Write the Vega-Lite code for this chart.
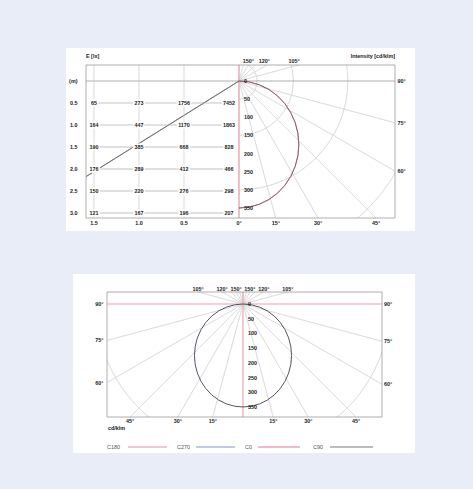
{
  "$schema": "https://vega.github.io/schema/vega-lite/v6.json",
  "background": "#e9edf7",
  "padding": {"left": 66, "top": 48, "right": 58, "bottom": 36},
  "config": {
    "view": {"stroke": null},
    "text": {"font": "Liberation Sans", "fontSize": 5.4, "fontWeight": "bold", "color": "#1a1a1a"}
  },
  "datasets": {
    "rings": [{"r": 50}, {"r": 100}, {"r": 150}, {"r": 200}, {"r": 250}, {"r": 300}, {"r": 350}, {"r": 400}, {"r": 450}, {"r": 500}, {"r": 550}, {"r": 600}, {"r": 650}],
    "rays": [{"angle": -165}, {"angle": -150}, {"angle": -135}, {"angle": -120}, {"angle": -105}, {"angle": -75}, {"angle": -60}, {"angle": -45}, {"angle": -30}, {"angle": -15}, {"angle": 15}, {"angle": 30}, {"angle": 45}, {"angle": 60}, {"angle": 75}, {"angle": 105}, {"angle": 120}, {"angle": 135}, {"angle": 150}, {"angle": 165}],
    "radial": [{"cd": 0}, {"cd": 50}, {"cd": 100}, {"cd": 150}, {"cd": 200}, {"cd": 250}, {"cd": 300}, {"cd": 350}],
    "curve": [
      {"angle": -90, "h": 0, "v": 0}, {"angle": -85, "h": -28.7, "v": 2.7}, {"angle": -80, "h": -56.4, "v": 10.6}, {"angle": -75, "h": -82.5, "v": 23.4}, {"angle": -70, "h": -106.1, "v": 40.9}, {"angle": -65, "h": -126.4, "v": 62.5}, {"angle": -60, "h": -142.9, "v": 87.5}, {"angle": -55, "h": -155.0, "v": 115.1}, {"angle": -50, "h": -162.5, "v": 144.6}, {"angle": -45, "h": -165.0, "v": 175.0}, {"angle": -40, "h": -162.5, "v": 205.4}, {"angle": -35, "h": -155.0, "v": 234.9}, {"angle": -30, "h": -142.9, "v": 262.5}, {"angle": -25, "h": -126.4, "v": 287.5}, {"angle": -20, "h": -106.1, "v": 309.1}, {"angle": -15, "h": -82.5, "v": 326.6}, {"angle": -10, "h": -56.4, "v": 339.4}, {"angle": -5, "h": -28.7, "v": 347.3},
      {"angle": 0, "h": 0, "v": 350},
      {"angle": 5, "h": 28.7, "v": 347.3}, {"angle": 10, "h": 56.4, "v": 339.4}, {"angle": 15, "h": 82.5, "v": 326.6}, {"angle": 20, "h": 106.1, "v": 309.1}, {"angle": 25, "h": 126.4, "v": 287.5}, {"angle": 30, "h": 142.9, "v": 262.5}, {"angle": 35, "h": 155.0, "v": 234.9}, {"angle": 40, "h": 162.5, "v": 205.4}, {"angle": 45, "h": 165.0, "v": 175.0}, {"angle": 50, "h": 162.5, "v": 144.6}, {"angle": 55, "h": 155.0, "v": 115.1}, {"angle": 60, "h": 142.9, "v": 87.5}, {"angle": 65, "h": 126.4, "v": 62.5}, {"angle": 70, "h": 106.1, "v": 40.9}, {"angle": 75, "h": 82.5, "v": 23.4}, {"angle": 80, "h": 56.4, "v": 10.6}, {"angle": 85, "h": 28.7, "v": 2.7}, {"angle": 90, "h": 0, "v": 0}
    ],
    "topAngles": [
      {"label": "0°", "u": 0, "v": 377.5, "pos": "b"}, {"label": "15°", "u": 101.2, "v": 377.5, "pos": "b"}, {"label": "30°", "u": 218, "v": 377.5, "pos": "b"}, {"label": "45°", "u": 377.5, "v": 377.5, "pos": "b"},
      {"label": "90°", "u": 429.9, "v": 0, "pos": "r"}, {"label": "75°", "u": 429.9, "v": 115.2, "pos": "r"}, {"label": "60°", "u": 429.9, "v": 248.2, "pos": "r"},
      {"label": "150°", "u": 25.5, "v": -44.09, "pos": "t"}, {"label": "120°", "u": 70, "v": -44.09, "pos": "t"}, {"label": "105°", "u": 152, "v": -44.09, "pos": "t"}
    ],
    "bottomAngles": [
      {"label": "45°", "u": -384, "v": 384, "pos": "b"}, {"label": "30°", "u": -221.7, "v": 384, "pos": "b"}, {"label": "15°", "u": -102.9, "v": 384, "pos": "b"}, {"label": "15°", "u": 102.9, "v": 384, "pos": "b"}, {"label": "30°", "u": 221.7, "v": 384, "pos": "b"}, {"label": "45°", "u": 384, "v": 384, "pos": "b"},
      {"label": "90°", "u": -462.1, "v": 0, "pos": "l"}, {"label": "75°", "u": -462.1, "v": 123.8, "pos": "l"}, {"label": "60°", "u": -462.1, "v": 266.8, "pos": "l"},
      {"label": "90°", "u": 472.3, "v": 0, "pos": "r"}, {"label": "75°", "u": 472.3, "v": 126.6, "pos": "r"}, {"label": "60°", "u": 472.3, "v": 272.7, "pos": "r"},
      {"label": "105°", "u": -152.3, "v": -40.8, "pos": "t"}, {"label": "120°", "u": -70.7, "v": -40.8, "pos": "t"}, {"label": "150°", "u": -23.6, "v": -40.8, "pos": "t"}, {"label": "150°", "u": 23.6, "v": -40.8, "pos": "t"}, {"label": "120°", "u": 70.7, "v": -40.8, "pos": "t"}, {"label": "105°", "u": 152.3, "v": -40.8, "pos": "t"}
    ],
    "table": [
      {"h": 0.5, "d": 1.5, "E": 65}, {"h": 0.5, "d": 1.0, "E": 273}, {"h": 0.5, "d": 0.5, "E": 1756}, {"h": 0.5, "d": 0, "E": 7452},
      {"h": 1.0, "d": 1.5, "E": 164}, {"h": 1.0, "d": 1.0, "E": 447}, {"h": 1.0, "d": 0.5, "E": 1170}, {"h": 1.0, "d": 0, "E": 1863},
      {"h": 1.5, "d": 1.5, "E": 190}, {"h": 1.5, "d": 1.0, "E": 385}, {"h": 1.5, "d": 0.5, "E": 668}, {"h": 1.5, "d": 0, "E": 828},
      {"h": 2.0, "d": 1.5, "E": 176}, {"h": 2.0, "d": 1.0, "E": 289}, {"h": 2.0, "d": 0.5, "E": 412}, {"h": 2.0, "d": 0, "E": 466},
      {"h": 2.5, "d": 1.5, "E": 150}, {"h": 2.5, "d": 1.0, "E": 220}, {"h": 2.5, "d": 0.5, "E": 276}, {"h": 2.5, "d": 0, "E": 298},
      {"h": 3.0, "d": 1.5, "E": 121}, {"h": 3.0, "d": 1.0, "E": 167}, {"h": 3.0, "d": 0.5, "E": 196}, {"h": 3.0, "d": 0, "E": 207}
    ],
    "legend": [
      {"plane": "C180", "tx": -462.1, "l0": -390.8, "l1": -258.2},
      {"plane": "C270", "tx": -224.3, "l0": -159.7, "l1": -27.2},
      {"plane": "C0", "tx": 6.8, "l0": 51.0, "l1": 193.7},
      {"plane": "C90", "tx": 237.9, "l0": 295.6, "l1": 441.7}
    ]
  },
  "spacing": 74,
  "bounds": "flush",
  "vconcat": [
    {
      "width": 309,
      "height": 153,
      "resolve": {"scale": {"x": "independent", "y": "independent"}},
      "layer": [
        {
          "layer": [
            {"data": {"values": [{}]}, "mark": {"type": "rect", "fill": "#ffffff"},
             "encoding": {"x": {"datum": -476.7, "type": "quantitative", "scale": {"type": "linear", "domain": [-421.6, 429.9], "nice": false, "zero": false}, "axis": null}, "x2": {"datum": 485.0},
                          "y": {"datum": -90.9, "type": "quantitative", "scale": {"type": "linear", "domain": [-44.09, 377.5], "reverse": true, "nice": false, "zero": false}, "axis": null}, "y2": {"datum": 413.3}}},
            {"data": {"name": "rings"}, "mark": {"type": "arc", "filled": false, "stroke": "#d6d6d6", "strokeWidth": 0.6, "theta": 0, "theta2": 3.14159, "clip": true},
             "encoding": {"x": {"datum": 0, "type": "quantitative", "scale": {"type": "linear", "domain": [-421.6, 429.9], "nice": false, "zero": false}, "axis": null},
                          "y": {"datum": 0, "type": "quantitative", "scale": {"type": "linear", "domain": [-44.09, 377.5], "reverse": true, "nice": false, "zero": false}, "axis": null},
                          "radius": {"field": "r", "type": "quantitative", "scale": {"type": "linear", "domain": [0, 1000], "range": [0, 362.9], "zero": true}}}},
            {"data": {"name": "rays"}, "transform": [{"filter": "datum.angle > 0"}], "mark": {"type": "arc", "filled": false, "stroke": "#d6d6d6", "strokeWidth": 0.6, "clip": true},
             "encoding": {"x": {"datum": 0, "type": "quantitative", "scale": {"type": "linear", "domain": [-421.6, 429.9], "nice": false, "zero": false}, "axis": null},
                          "y": {"datum": 0, "type": "quantitative", "scale": {"type": "linear", "domain": [-44.09, 377.5], "reverse": true, "nice": false, "zero": false}, "axis": null},
                          "theta": {"field": "angle", "type": "quantitative", "stack": null, "scale": {"type": "linear", "domain": [-180, 180], "range": [6.283185, 0], "zero": false}},
                          "theta2": {"field": "angle"},
                          "radius": {"datum": 700, "type": "quantitative", "scale": {"type": "linear", "domain": [0, 1000], "range": [0, 362.9], "zero": true}},
                          "radius2": {"datum": 0}}},
            {"data": {"values": [{}]}, "mark": {"type": "rule", "stroke": "#9a9a9a", "strokeWidth": 0.8},
             "encoding": {"y": {"datum": 0, "type": "quantitative", "scale": {"type": "linear", "domain": [-44.09, 377.5], "reverse": true, "nice": false, "zero": false}, "axis": null}}},
            {"data": {"values": [{}]}, "mark": {"type": "rule", "stroke": "#f0a0b2", "strokeWidth": 1.3},
             "encoding": {"x": {"datum": 0, "type": "quantitative", "scale": {"type": "linear", "domain": [-421.6, 429.9], "nice": false, "zero": false}, "axis": null}}},
            {"data": {"values": [{"angle": -58}]}, "mark": {"type": "arc", "filled": false, "stroke": "#6a6a6a", "strokeWidth": 0.8, "clip": true},
             "encoding": {"x": {"datum": 0, "type": "quantitative", "scale": {"type": "linear", "domain": [-421.6, 429.9], "nice": false, "zero": false}, "axis": null},
                          "y": {"datum": 0, "type": "quantitative", "scale": {"type": "linear", "domain": [-44.09, 377.5], "reverse": true, "nice": false, "zero": false}, "axis": null},
                          "theta": {"field": "angle", "type": "quantitative", "stack": null, "scale": {"type": "linear", "domain": [-180, 180], "range": [6.283185, 0], "zero": false}},
                          "theta2": {"field": "angle"},
                          "radius": {"datum": 700, "type": "quantitative", "scale": {"type": "linear", "domain": [0, 1000], "range": [0, 362.9], "zero": true}},
                          "radius2": {"datum": 0}}},
            {"data": {"name": "curve"}, "transform": [{"filter": "datum.angle >= 0"}], "mark": {"type": "line", "stroke": "#555555", "strokeWidth": 1, "clip": true},
             "encoding": {"x": {"field": "h", "type": "quantitative", "scale": {"type": "linear", "domain": [-421.6, 429.9], "nice": false, "zero": false}, "axis": null},
                          "y": {"field": "v", "type": "quantitative", "scale": {"type": "linear", "domain": [-44.09, 377.5], "reverse": true, "nice": false, "zero": false}, "axis": null},
                          "order": {"field": "angle", "type": "quantitative"}}},
            {"data": {"name": "curve"}, "transform": [{"filter": "datum.angle >= 0"}], "mark": {"type": "line", "stroke": "#e0607e", "strokeWidth": 0.9, "opacity": 0.55, "clip": true},
             "encoding": {"x": {"field": "h", "type": "quantitative", "scale": {"type": "linear", "domain": [-421.6, 429.9], "nice": false, "zero": false}, "axis": null},
                          "y": {"field": "v", "type": "quantitative", "scale": {"type": "linear", "domain": [-44.09, 377.5], "reverse": true, "nice": false, "zero": false}, "axis": null},
                          "order": {"field": "angle", "type": "quantitative"}}},
            {"data": {"name": "radial"}, "mark": {"type": "text", "align": "left", "baseline": "middle", "dx": 5},
             "encoding": {"x": {"datum": 0, "type": "quantitative", "scale": {"type": "linear", "domain": [-421.6, 429.9], "nice": false, "zero": false}, "axis": null},
                          "y": {"field": "cd", "type": "quantitative", "scale": {"type": "linear", "domain": [-44.09, 377.5], "reverse": true, "nice": false, "zero": false}, "axis": null},
                          "text": {"field": "cd", "type": "quantitative", "format": "d"}}},
            {"data": {"name": "topAngles"}, "transform": [{"filter": "datum.pos == 'b'"}], "mark": {"type": "text", "align": "center", "baseline": "top", "dy": 2.5},
             "encoding": {"x": {"field": "u", "type": "quantitative", "scale": {"type": "linear", "domain": [-421.6, 429.9], "nice": false, "zero": false}, "axis": null},
                          "y": {"field": "v", "type": "quantitative", "scale": {"type": "linear", "domain": [-44.09, 377.5], "reverse": true, "nice": false, "zero": false}, "axis": null},
                          "text": {"field": "label"}}},
            {"data": {"name": "topAngles"}, "transform": [{"filter": "datum.pos == 'r'"}], "mark": {"type": "text", "align": "left", "baseline": "middle", "dx": 2.5},
             "encoding": {"x": {"field": "u", "type": "quantitative", "scale": {"type": "linear", "domain": [-421.6, 429.9], "nice": false, "zero": false}, "axis": null},
                          "y": {"field": "v", "type": "quantitative", "scale": {"type": "linear", "domain": [-44.09, 377.5], "reverse": true, "nice": false, "zero": false}, "axis": null},
                          "text": {"field": "label"}}},
            {"data": {"name": "topAngles"}, "transform": [{"filter": "datum.pos == 't'"}], "mark": {"type": "text", "align": "center", "baseline": "bottom", "dy": -1},
             "encoding": {"x": {"field": "u", "type": "quantitative", "scale": {"type": "linear", "domain": [-421.6, 429.9], "nice": false, "zero": false}, "axis": null},
                          "y": {"field": "v", "type": "quantitative", "scale": {"type": "linear", "domain": [-44.09, 377.5], "reverse": true, "nice": false, "zero": false}, "axis": null},
                          "text": {"field": "label"}}},
            {"data": {"values": [{}]}, "mark": {"type": "text", "align": "right", "baseline": "middle"},
             "encoding": {"x": {"datum": 429.9, "type": "quantitative", "scale": {"type": "linear", "domain": [-421.6, 429.9], "nice": false, "zero": false}, "axis": null},
                          "y": {"datum": -68.9, "type": "quantitative", "scale": {"type": "linear", "domain": [-44.09, 377.5], "reverse": true, "nice": false, "zero": false}, "axis": null},
                          "text": {"value": "Intensity [cd/klm]"}}}
          ]
        },
        {
          "layer": [
            {"data": {"name": "table"}, "transform": [{"filter": "datum.h == 0.5 && datum.d > 0"}], "mark": {"type": "rule", "stroke": "#c8c8c8", "strokeWidth": 0.7},
             "encoding": {"x": {"field": "d", "type": "quantitative", "scale": {"type": "linear", "domain": [-1.8444, 1.5889], "reverse": true, "nice": false, "zero": false}, "axis": null}}},
            {"data": {"name": "table"}, "transform": [{"filter": "datum.d == 0"}], "mark": {"type": "rule", "stroke": "#a8a8a8", "strokeWidth": 0.7},
             "encoding": {"y": {"field": "h", "type": "quantitative", "scale": {"type": "linear", "domain": [-0.3636, 3.1136], "reverse": true, "nice": false, "zero": false}, "axis": null},
                          "x": {"datum": 1.5, "type": "quantitative", "scale": {"type": "linear", "domain": [-1.8444, 1.5889], "reverse": true, "nice": false, "zero": false}, "axis": null},
                          "x2": {"datum": 0}}},
            {"data": {"name": "table"}, "mark": {"type": "text", "align": "center", "baseline": "middle", "fill": "#ffffff", "stroke": "#ffffff", "strokeWidth": 3},
             "encoding": {"x": {"field": "d", "type": "quantitative", "scale": {"type": "linear", "domain": [-1.8444, 1.5889], "reverse": true, "nice": false, "zero": false}, "axis": null},
                          "y": {"field": "h", "type": "quantitative", "scale": {"type": "linear", "domain": [-0.3636, 3.1136], "reverse": true, "nice": false, "zero": false}, "axis": null},
                          "text": {"field": "E", "type": "quantitative", "format": "d"}}},
            {"data": {"name": "table"}, "mark": {"type": "text", "align": "center", "baseline": "middle"},
             "encoding": {"x": {"field": "d", "type": "quantitative", "scale": {"type": "linear", "domain": [-1.8444, 1.5889], "reverse": true, "nice": false, "zero": false}, "axis": null},
                          "y": {"field": "h", "type": "quantitative", "scale": {"type": "linear", "domain": [-0.3636, 3.1136], "reverse": true, "nice": false, "zero": false}, "axis": null},
                          "text": {"field": "E", "type": "quantitative", "format": "d"}}},
            {"data": {"name": "table"}, "transform": [{"filter": "datum.d == 0"}], "mark": {"type": "text", "align": "right", "baseline": "middle", "dx": -8.5},
             "encoding": {"x": {"datum": 1.5889, "type": "quantitative", "scale": {"type": "linear", "domain": [-1.8444, 1.5889], "reverse": true, "nice": false, "zero": false}, "axis": null},
                          "y": {"field": "h", "type": "quantitative", "scale": {"type": "linear", "domain": [-0.3636, 3.1136], "reverse": true, "nice": false, "zero": false}, "axis": null},
                          "text": {"field": "h", "type": "quantitative", "format": ".1f"}}},
            {"data": {"values": [{}]}, "mark": {"type": "text", "align": "right", "baseline": "middle", "dx": -8.5},
             "encoding": {"x": {"datum": 1.5889, "type": "quantitative", "scale": {"type": "linear", "domain": [-1.8444, 1.5889], "reverse": true, "nice": false, "zero": false}, "axis": null},
                          "y": {"datum": 0, "type": "quantitative", "scale": {"type": "linear", "domain": [-0.3636, 3.1136], "reverse": true, "nice": false, "zero": false}, "axis": null},
                          "text": {"value": "(m)"}}},
            {"data": {"name": "table"}, "transform": [{"filter": "datum.h == 3 && datum.d > 0"}], "mark": {"type": "text", "align": "center", "baseline": "top", "dy": 2.5},
             "encoding": {"x": {"field": "d", "type": "quantitative", "scale": {"type": "linear", "domain": [-1.8444, 1.5889], "reverse": true, "nice": false, "zero": false}, "axis": null},
                          "y": {"datum": 3.1136, "type": "quantitative", "scale": {"type": "linear", "domain": [-0.3636, 3.1136], "reverse": true, "nice": false, "zero": false}, "axis": null},
                          "text": {"field": "d", "type": "quantitative", "format": ".1f"}}},
            {"data": {"values": [{}]}, "mark": {"type": "text", "align": "left", "baseline": "middle"},
             "encoding": {"x": {"datum": 1.5889, "type": "quantitative", "scale": {"type": "linear", "domain": [-1.8444, 1.5889], "reverse": true, "nice": false, "zero": false}, "axis": null},
                          "y": {"datum": -0.568, "type": "quantitative", "scale": {"type": "linear", "domain": [-0.3636, 3.1136], "reverse": true, "nice": false, "zero": false}, "axis": null},
                          "text": {"value": "E [lx]"}}},
            {"data": {"values": [{}]}, "mark": {"type": "rect", "filled": false, "stroke": "#9a9a9a", "strokeWidth": 0.8},
             "encoding": {"x": {"datum": 1.5889, "type": "quantitative", "scale": {"type": "linear", "domain": [-1.8444, 1.5889], "reverse": true, "nice": false, "zero": false}, "axis": null}, "x2": {"datum": -1.8444},
                          "y": {"datum": -0.3636, "type": "quantitative", "scale": {"type": "linear", "domain": [-0.3636, 3.1136], "reverse": true, "nice": false, "zero": false}, "axis": null}, "y2": {"datum": 3.1136}}}
          ]
        }
      ]
    },
    {
      "spacing": 0,
      "bounds": "flush",
      "hconcat": [
        {"width": 21, "height": 1, "data": {"values": []}, "mark": "point", "encoding": {}},
        {
          "width": 275,
          "height": 125,
          "layer": [
            {"data": {"values": [{}]}, "mark": {"type": "rect", "fill": "#ffffff"},
             "encoding": {"x": {"datum": -577.6, "type": "quantitative", "scale": {"type": "linear", "domain": [-462.1, 472.3], "nice": false, "zero": false}, "axis": null}, "x2": {"datum": 584.4},
                          "y": {"datum": -101.9, "type": "quantitative", "scale": {"type": "linear", "domain": [-40.8, 384.0], "reverse": true, "nice": false, "zero": false}, "axis": null}, "y2": {"datum": 506.3}}},
            {"data": {"name": "rings"}, "mark": {"type": "arc", "filled": false, "stroke": "#d6d6d6", "strokeWidth": 0.6, "theta": 0, "theta2": 6.28318, "clip": true},
             "encoding": {"x": {"datum": 0, "type": "quantitative", "scale": {"type": "linear", "domain": [-462.1, 472.3], "nice": false, "zero": false}, "axis": null},
                          "y": {"datum": 0, "type": "quantitative", "scale": {"type": "linear", "domain": [-40.8, 384.0], "reverse": true, "nice": false, "zero": false}, "axis": null},
                          "radius": {"field": "r", "type": "quantitative", "scale": {"type": "linear", "domain": [0, 1000], "range": [0, 294.3], "zero": true}}}},
            {"data": {"name": "rays"}, "mark": {"type": "arc", "filled": false, "stroke": "#d6d6d6", "strokeWidth": 0.6, "clip": true},
             "encoding": {"x": {"datum": 0, "type": "quantitative", "scale": {"type": "linear", "domain": [-462.1, 472.3], "nice": false, "zero": false}, "axis": null},
                          "y": {"datum": 0, "type": "quantitative", "scale": {"type": "linear", "domain": [-40.8, 384.0], "reverse": true, "nice": false, "zero": false}, "axis": null},
                          "theta": {"field": "angle", "type": "quantitative", "stack": null, "scale": {"type": "linear", "domain": [-180, 180], "range": [6.283185, 0], "zero": false}},
                          "theta2": {"field": "angle"},
                          "radius": {"datum": 700, "type": "quantitative", "scale": {"type": "linear", "domain": [0, 1000], "range": [0, 294.3], "zero": true}},
                          "radius2": {"datum": 0}}},
            {"data": {"values": [{}]}, "mark": {"type": "rule", "stroke": "#f0a0b2", "strokeWidth": 1.2},
             "encoding": {"y": {"datum": 0, "type": "quantitative", "scale": {"type": "linear", "domain": [-40.8, 384.0], "reverse": true, "nice": false, "zero": false}, "axis": null}}},
            {"data": {"values": [{}]}, "mark": {"type": "rule", "stroke": "#f0a0b2", "strokeWidth": 1.2},
             "encoding": {"x": {"datum": 0, "type": "quantitative", "scale": {"type": "linear", "domain": [-462.1, 472.3], "nice": false, "zero": false}, "axis": null}}},
            {"data": {"name": "curve"}, "transform": [{"filter": "datum.angle >= 0"}], "mark": {"type": "line", "stroke": "#555555", "strokeWidth": 1, "clip": true},
             "encoding": {"x": {"field": "h", "type": "quantitative", "scale": {"type": "linear", "domain": [-462.1, 472.3], "nice": false, "zero": false}, "axis": null},
                          "y": {"field": "v", "type": "quantitative", "scale": {"type": "linear", "domain": [-40.8, 384.0], "reverse": true, "nice": false, "zero": false}, "axis": null},
                          "order": {"field": "angle", "type": "quantitative"}}},
            {"data": {"name": "curve"}, "transform": [{"filter": "datum.angle <= 0"}], "mark": {"type": "line", "stroke": "#50566a", "strokeWidth": 1, "clip": true},
             "encoding": {"x": {"field": "h", "type": "quantitative", "scale": {"type": "linear", "domain": [-462.1, 472.3], "nice": false, "zero": false}, "axis": null},
                          "y": {"field": "v", "type": "quantitative", "scale": {"type": "linear", "domain": [-40.8, 384.0], "reverse": true, "nice": false, "zero": false}, "axis": null},
                          "order": {"field": "angle", "type": "quantitative"}}},
            {"data": {"name": "radial"}, "mark": {"type": "text", "align": "left", "baseline": "middle", "dx": 5},
             "encoding": {"x": {"datum": 0, "type": "quantitative", "scale": {"type": "linear", "domain": [-462.1, 472.3], "nice": false, "zero": false}, "axis": null},
                          "y": {"field": "cd", "type": "quantitative", "scale": {"type": "linear", "domain": [-40.8, 384.0], "reverse": true, "nice": false, "zero": false}, "axis": null},
                          "text": {"field": "cd", "type": "quantitative", "format": "d"}}},
            {"data": {"name": "bottomAngles"}, "transform": [{"filter": "datum.pos == 'b'"}], "mark": {"type": "text", "align": "center", "baseline": "top", "dy": 2},
             "encoding": {"x": {"field": "u", "type": "quantitative", "scale": {"type": "linear", "domain": [-462.1, 472.3], "nice": false, "zero": false}, "axis": null},
                          "y": {"field": "v", "type": "quantitative", "scale": {"type": "linear", "domain": [-40.8, 384.0], "reverse": true, "nice": false, "zero": false}, "axis": null},
                          "text": {"field": "label"}}},
            {"data": {"name": "bottomAngles"}, "transform": [{"filter": "datum.pos == 'l'"}], "mark": {"type": "text", "align": "right", "baseline": "middle", "dx": -3.5},
             "encoding": {"x": {"field": "u", "type": "quantitative", "scale": {"type": "linear", "domain": [-462.1, 472.3], "nice": false, "zero": false}, "axis": null},
                          "y": {"field": "v", "type": "quantitative", "scale": {"type": "linear", "domain": [-40.8, 384.0], "reverse": true, "nice": false, "zero": false}, "axis": null},
                          "text": {"field": "label"}}},
            {"data": {"name": "bottomAngles"}, "transform": [{"filter": "datum.pos == 'r'"}], "mark": {"type": "text", "align": "left", "baseline": "middle", "dx": 2},
             "encoding": {"x": {"field": "u", "type": "quantitative", "scale": {"type": "linear", "domain": [-462.1, 472.3], "nice": false, "zero": false}, "axis": null},
                          "y": {"field": "v", "type": "quantitative", "scale": {"type": "linear", "domain": [-40.8, 384.0], "reverse": true, "nice": false, "zero": false}, "axis": null},
                          "text": {"field": "label"}}},
            {"data": {"name": "bottomAngles"}, "transform": [{"filter": "datum.pos == 't'"}], "mark": {"type": "text", "align": "center", "baseline": "bottom", "dy": -0.5},
             "encoding": {"x": {"field": "u", "type": "quantitative", "scale": {"type": "linear", "domain": [-462.1, 472.3], "nice": false, "zero": false}, "axis": null},
                          "y": {"field": "v", "type": "quantitative", "scale": {"type": "linear", "domain": [-40.8, 384.0], "reverse": true, "nice": false, "zero": false}, "axis": null},
                          "text": {"field": "label"}}},
            {"data": {"values": [{}]}, "mark": {"type": "text", "align": "left", "baseline": "middle"},
             "encoding": {"x": {"datum": -459, "type": "quantitative", "scale": {"type": "linear", "domain": [-462.1, 472.3], "nice": false, "zero": false}, "axis": null},
                          "y": {"datum": 421.3, "type": "quantitative", "scale": {"type": "linear", "domain": [-40.8, 384.0], "reverse": true, "nice": false, "zero": false}, "axis": null},
                          "text": {"value": "cd/klm"}}},
            {"data": {"name": "legend"}, "mark": {"type": "rule", "strokeWidth": 1},
             "encoding": {"x": {"field": "l0", "type": "quantitative", "scale": {"type": "linear", "domain": [-462.1, 472.3], "nice": false, "zero": false}, "axis": null},
                          "x2": {"field": "l1"},
                          "y": {"datum": 485.9, "type": "quantitative", "scale": {"type": "linear", "domain": [-40.8, 384.0], "reverse": true, "nice": false, "zero": false}, "axis": null},
                          "color": {"field": "plane", "type": "nominal", "scale": {"domain": ["C180", "C270", "C0", "C90"], "range": ["#e58fa3", "#8393c8", "#e2758f", "#7a7a7a"]}, "legend": null}}},
            {"data": {"name": "legend"}, "mark": {"type": "text", "align": "left", "baseline": "middle", "fontWeight": "normal", "fill": "#555555"},
             "encoding": {"x": {"field": "tx", "type": "quantitative", "scale": {"type": "linear", "domain": [-462.1, 472.3], "nice": false, "zero": false}, "axis": null},
                          "y": {"datum": 485.9, "type": "quantitative", "scale": {"type": "linear", "domain": [-40.8, 384.0], "reverse": true, "nice": false, "zero": false}, "axis": null},
                          "text": {"field": "plane"}}},
            {"data": {"values": [{}]}, "mark": {"type": "rect", "filled": false, "stroke": "#9a9a9a", "strokeWidth": 0.8},
             "encoding": {"x": {"datum": -462.1, "type": "quantitative", "scale": {"type": "linear", "domain": [-462.1, 472.3], "nice": false, "zero": false}, "axis": null}, "x2": {"datum": 472.3},
                          "y": {"datum": -40.8, "type": "quantitative", "scale": {"type": "linear", "domain": [-40.8, 384.0], "reverse": true, "nice": false, "zero": false}, "axis": null}, "y2": {"datum": 384.0}}}
          ]
        }
      ]
    }
  ]
}
